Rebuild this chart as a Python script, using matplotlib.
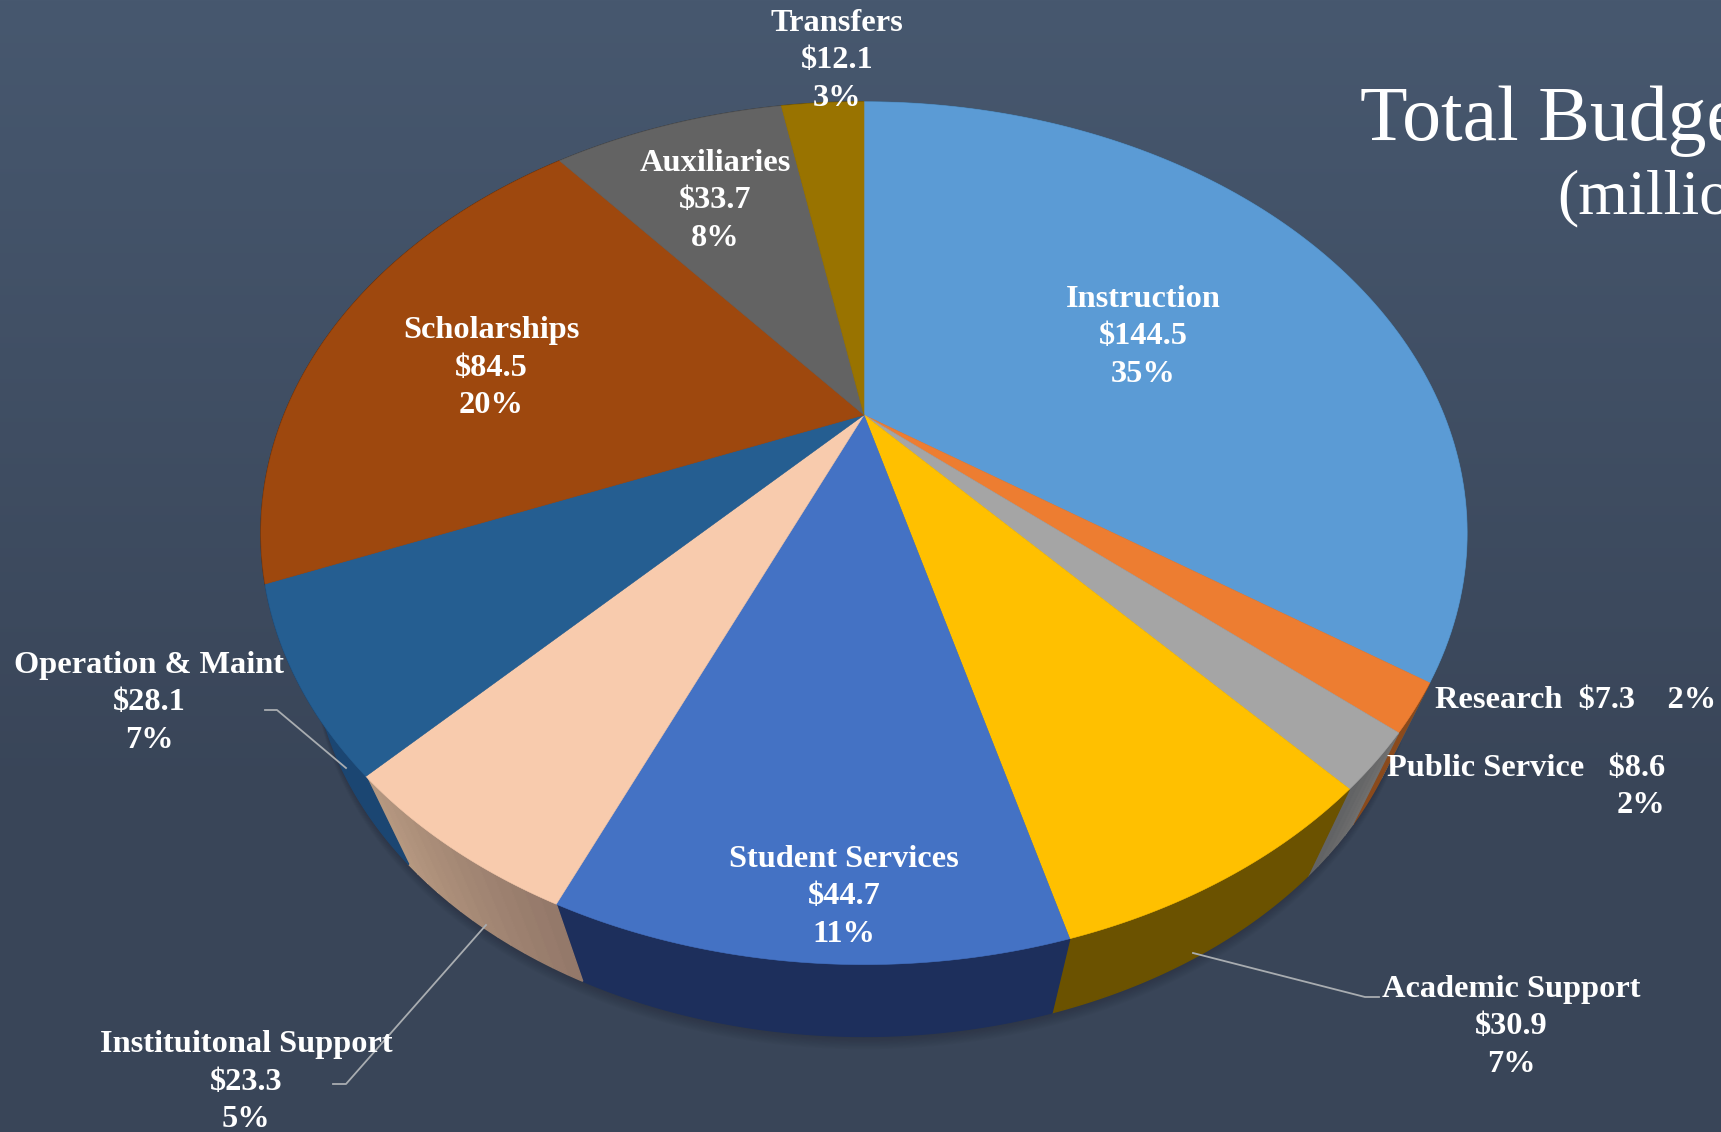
import numpy as np
import matplotlib
matplotlib.use("Agg")
import matplotlib.pyplot as plt

names = ["Instruction", "Research", "Public Service", "Academic Support", "Student Services",
         "Instituitonal Support", "Operation & Maint", "Scholarships", "Auxiliaries", "Transfers"]
values = [144.5, 7.3, 8.6, 30.9, 44.7, 23.3, 28.1, 84.5, 33.7, 12.1]
percents = [35, 2, 2, 7, 11, 5, 7, 20, 8, 3]

top_colors = ["#5B9BD5", "#ED7D31", "#A5A5A5", "#FFC000", "#4472C4",
              "#F8CBAD", "#255E91", "#9E480E", "#636363", "#997300"]
side_start = ["#3a6488", "#8a4a1c", "#6f6f6f", "#6b5200", "#1d2f5c",
              "#94796a", "#1b4672", "#5e2b08", "#3b3b3b", "#5b4500"]
side_end = ["#3a6488", "#8a4a1c", "#5f6062", "#6b5200", "#1d2f5c",
            "#b89a82", "#1b4672", "#5e2b08", "#3b3b3b", "#5b4500"]

# label centre in pixels, ha
label_pos = {
    "Instruction": (1143, 337, "center"),
    "Student Services": (844, 897, "center"),
    "Scholarships": (491, 368, "center"),
    "Auxiliaries": (715, 201, "center"),
    "Transfers": (837, 61, "center"),
    "Operation & Maint": (149, 703, "center"),
    "Instituitonal Support": (246, 1082, "center"),
    "Academic Support": (1511, 1027, "center"),
}

SERIF = "Liberation Serif"
W, H = 1721, 1132
# perspective of the pie lid, in pixels
CX, CY, A, B, K = 864, 415, 580, 399, 0.274
VX, VY, DEPTH = 864, 1800, 0.086


def lid(theta):
    x, y = np.sin(theta), np.cos(theta)
    d = 1 + K * y
    return CX + A * x / d, CY - B * y / d


def floor(px, py):
    return px + DEPTH * (VX - px), py + DEPTH * (VY - py)


def mix(c1, c2, t):
    a = np.array(matplotlib.colors.to_rgb(c1))
    b = np.array(matplotlib.colors.to_rgb(c2))
    return tuple(a + (b - a) * t)


fig = plt.figure(figsize=(W / 100, H / 100), dpi=100)
ax = fig.add_axes([0, 0, 1, 1])
bg = np.zeros((H, 2, 3))
top_bg = np.array(matplotlib.colors.to_rgb("#47586f"))
bot_bg = np.array(matplotlib.colors.to_rgb("#394558"))
for row in range(H):
    bg[row, :] = top_bg + (bot_bg - top_bg) * min(row / 800, 1)
ax.imshow(bg, extent=[0, W, H, 0], aspect="auto", zorder=0)
ax.set_xlim(0, W)
ax.set_ylim(H, 0)
ax.axis("off")

edges = np.cumsum([0] + values) / sum(values) * 2 * np.pi

# soft shadow under the pie
all_t = np.linspace(0, 2 * np.pi, 300)
fx, fy = floor(*lid(all_t))
for grow in range(1, 9):
    ax.fill(fx, fy + grow * 1.6, color="#20262f", alpha=0.05, lw=0, zorder=1)

# rim, only the peach and grey slices change colour along the arc
for i in range(len(values)):
    n = 1 if side_start[i] == side_end[i] else max(int((edges[i + 1] - edges[i]) * 40), 2)
    ts = np.linspace(edges[i], edges[i + 1], n + 1)
    for j in range(n):
        seg = np.linspace(ts[j], ts[j + 1], 60 // n + 2)
        px, py = lid(seg)
        qx, qy = floor(px, py)
        col = mix(side_start[i], side_end[i], j / n)
        ax.fill(np.r_[px, qx[::-1]], np.r_[py, qy[::-1]], color=col, lw=1.0, ec=col, zorder=2)

# lid
for i in range(len(values)):
    ts = np.linspace(edges[i], edges[i + 1], 120)
    px, py = lid(ts)
    ax.fill(np.r_[CX, px], np.r_[CY, py], color=top_colors[i], lw=0.4, ec=top_colors[i], zorder=3)

# leader lines
for lx, ly in [([265, 277, 346], [710, 710, 768]),
               ([333, 346, 486], [1084, 1084, 925]),
               ([1193, 1365, 1379], [953, 997, 997])]:
    ax.plot(lx, ly, color="#a9adb1", lw=1.3, zorder=4)

# labels
style = dict(color="white", family=SERIF, fontweight="bold", fontsize=23.3, parse_math=False, zorder=5)
for i, name in enumerate(names):
    if name in label_pos:
        x, y, ha = label_pos[name]
        ax.text(x, y, f"{name}\n${values[i]}\n{percents[i]}%", ha=ha, va="center",
                multialignment="center", linespacing=1.39, **style)
ax.text(1435, 701, f"{names[1]}  ${values[1]}    {percents[1]}%", ha="left", va="center", **style)
ax.text(1665, 787, f"{names[2]}   ${values[2]}\n{percents[2]}%", ha="right", va="center",
        multialignment="right", linespacing=1.39, **style)

# title runs off the slide, as in the original
ax.text(1360, 140, "Total Budget", color="white", family=SERIF, fontsize=56, ha="left", va="baseline", zorder=5)
ax.text(1557, 213, "(millions)", color="white", family=SERIF, fontsize=46, ha="left", va="baseline", zorder=5)

fig.savefig("out.png", dpi=100)
